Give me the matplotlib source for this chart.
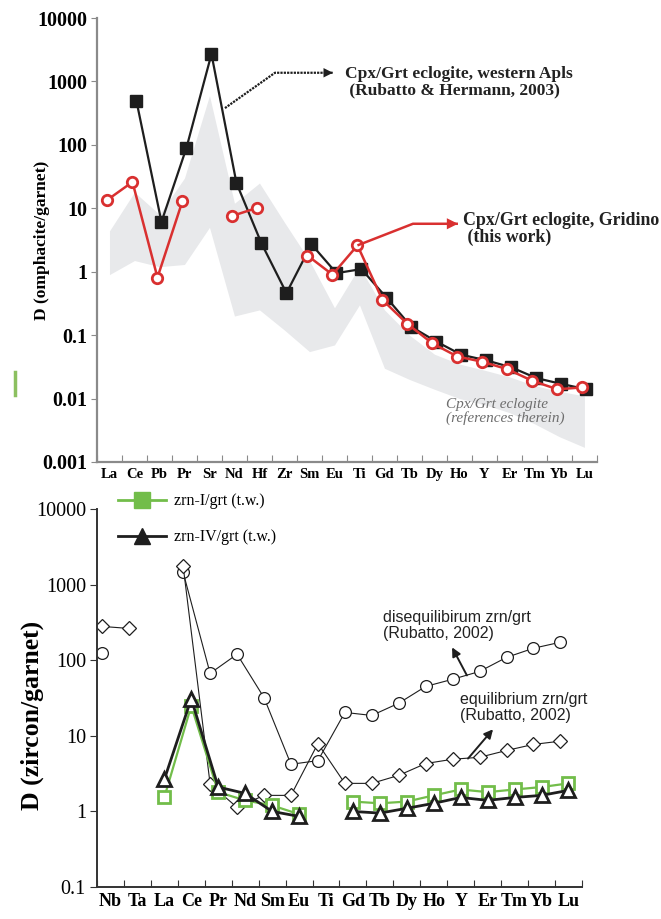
import matplotlib
matplotlib.use("Agg")
import matplotlib.pyplot as plt
import numpy as np
from matplotlib.lines import Line2D

plt.rcParams["font.family"] = ["Liberation Serif", "DejaVu Serif"]

# ── Panel (a): clinopyroxene / garnet partition coefficients ──────────────────
ELEMENTS_A = ["La", "Ce", "Pb", "Pr", "Sr", "Nd", "Hf", "Zr", "Sm", "Eu",
              "Ti", "Gd", "Tb", "Dy", "Ho", "Y", "Er", "Tm", "Yb", "Lu"]

# Rubatto & Hermann (2003), western Alps (no La)
D_ALPS = [np.nan, 490, 6.1, 90, 2700, 25, 2.8, 0.46, 2.7, 0.95,
          1.1, 0.39, 0.135, 0.079, 0.049, 0.040, 0.031, 0.021, 0.017, 0.014]

# this work, Gridino (no Sr, Zr)
D_GRIDINO = [13.6, 26, 0.81, 13, np.nan, 7.6, 10.2, np.nan, 1.8, 0.90,
             2.6, 0.36, 0.15, 0.074, 0.046, 0.038, 0.029, 0.019, 0.014, 0.015]

# literature envelope (references therein)
BAND_HI = [4.4, 18, 8, 30, 600, 12, 25, 6, 1.5, 0.27,
           1.2, 0.25, 0.10, 0.05, 0.035, 0.028, 0.022, 0.016, 0.013, 0.011]
BAND_LO = [0.9, 1.5, 1.2, 1.3, 5, 0.2, 0.25, 0.12, 0.055, 0.07,
           0.3, 0.03, 0.02, 0.014, 0.010, 0.008, 0.006, 0.004, 0.0025, 0.0017]

# ── Panel (b): zircon / garnet partition coefficients ─────────────────────────
ELEMENTS_B = ["Nb", "Ta", "La", "Ce", "Pr", "Nd", "Sm", "Eu", "Ti",
              "Gd", "Tb", "Dy", "Ho", "Y", "Er", "Tm", "Yb", "Lu"]

D_DISEQ = [123, np.nan, np.nan, 1450, 67, 120, 32, 4.2, 4.7,
           20.4, 18.6, 27, 45, 56, 71, 109, 144, 173]
D_EQ = [280, 263, np.nan, 1740, 2.3, 1.13, 1.63, 1.63, 7.9,
        2.35, 2.35, 3.0, 4.3, 4.9, 5.2, 6.4, 7.7, 8.5]
D_ZRN_I = [np.nan, np.nan, 1.53, 25, 1.8, 1.4, 1.2, 0.92, np.nan,
           1.35, 1.28, 1.35, 1.63, 1.95, 1.8, 1.95, 2.1, 2.35]
D_ZRN_IV = [np.nan, np.nan, 2.65, 31, 2.1, 1.73, 1.0, 0.86, np.nan,
            1.0, 0.95, 1.1, 1.28, 1.53, 1.4, 1.53, 1.63, 1.9]

RED = "#d93030"
GREEN = "#72bd4a"
DARK = "#1e1e1e"
BAND = "#e8e9eb"


def cat_axis(ax, labels, fs):
    n = len(labels)
    ax.set_xlim(0, n)
    ax.set_xticks(np.arange(n + 1))
    ax.set_xticklabels([])
    ax.tick_params(axis="x", which="major", direction="in", length=5)
    ax.set_xticks(np.arange(n) + 0.5, minor=True)
    ax.set_xticklabels(labels, minor=True, fontsize=fs, fontweight="bold")
    ax.tick_params(axis="x", which="minor", length=0, pad=4)
    ax.spines["top"].set_visible(False)
    ax.spines["right"].set_visible(False)


def elbow_arrow(ax, pts, color, lw, ls="-", head=14):
    """polyline through pts with an arrow head on the last segment"""
    xs, ys = zip(*pts)
    ax.plot(xs, ys, color=color, lw=lw, ls=ls,
            solid_capstyle="butt", zorder=5, clip_on=False)
    ax.annotate("", xy=pts[-1], xytext=pts[-2],
                arrowprops=dict(arrowstyle="-|>", color=color, lw=0,
                                mutation_scale=head, shrinkA=0, shrinkB=0),
                zorder=6)


fig = plt.figure(figsize=(6.61, 9.19), dpi=100)

# ── (a) ───────────────────────────────────────────────────────────────────────
ax = fig.add_axes([0.1467, 0.4973, 0.7564, 0.4831])
xa = np.arange(len(ELEMENTS_A)) + 0.5
ax.fill_between(xa, BAND_LO, BAND_HI, color=BAND, lw=0, zorder=1)
ax.plot(xa + 0.08, D_ALPS, color=DARK, lw=1.6, marker="s", ms=8.5,
        mfc=DARK, mec=DARK, zorder=3)
ax.plot(xa - 0.08, D_GRIDINO, color=RED, lw=1.8, marker="o", ms=7.5,
        mfc="white", mec=RED, mew=2.0, zorder=4)
ax.set_yscale("log")
ax.set_ylim(0.001, 10000)
ax.set_yticks([0.001, 0.01, 0.1, 1, 10, 100, 1000, 10000])
ax.set_yticklabels(["0.001", "0.01", "0.1", "1", "10", "100", "1000", "10000"],
                   fontsize=14.5, fontweight="bold")
ax.yaxis.set_minor_locator(matplotlib.ticker.NullLocator())
ax.tick_params(axis="y", direction="out", length=4, color="#8a8a8a", pad=3)
cat_axis(ax, ELEMENTS_A, 10.5)
ax.tick_params(axis="x", which="major", color="#8a8a8a")
for s in ("left", "bottom"):
    ax.spines[s].set_color("#8a8a8a")
    ax.spines[s].set_linewidth(1.6)
ax.set_ylabel("D (omphacite/garnet)", fontsize=12.5, fontweight="bold")
ax.yaxis.set_label_coords(-0.094, 0.5)

elbow_arrow(ax, [(5.12, 380), (7.12, 1370), (9.44, 1370)], DARK, 1.6,
            ls=(0, (1, 0.5)), head=17)
ax.text(9.92, 980, "Cpx/Grt eclogite, western Apls\n (Rubatto & Hermann, 2003)",
        fontsize=12.5, fontweight="bold", color="#222222", va="center",
        linespacing=1.0)
elbow_arrow(ax, [(10.42, 2.6), (12.64, 5.7), (14.44, 5.7)], RED, 1.8, head=20)
ax.text(14.65, 4.75, "Cpx/Grt eclogite, Gridino\n (this work)", fontsize=12.9,
        fontweight="bold", color="#222222", va="center", linespacing=1.0,
        clip_on=False)
ax.text(13.95, 0.0063, "Cpx/Grt eclogite\n(references therein)", fontsize=11,
        style="italic", color="#6e6e6e", va="center", linespacing=1.05)

# ── (b) ───────────────────────────────────────────────────────────────────────
bx = fig.add_axes([0.1467, 0.0348, 0.7337, 0.4113])
xb = np.arange(len(ELEMENTS_B))
ref_x = xb + 0.2
tw_x = xb + 0.5
bx.plot(ref_x, D_DISEQ, color=DARK, lw=0.8, marker="o", ms=8.5,
        mfc="white", mec=DARK, mew=0.9, zorder=2)
bx.plot(ref_x, D_EQ, color=DARK, lw=0.8, marker="D", ms=7.5,
        mfc="white", mec=DARK, mew=0.9, zorder=2)
bx.plot(tw_x, D_ZRN_I, color=GREEN, lw=1.6, marker="s", ms=9,
        mfc="white", mec=GREEN, mew=2.0, zorder=3)
bx.plot(tw_x, D_ZRN_IV, color=DARK, lw=2.0, marker="^", ms=10,
        mfc="white", mec=DARK, mew=2.0, zorder=4)
bx.set_yscale("log")
bx.set_ylim(0.1, 10000)
bx.set_yticks([0.1, 1, 10, 100, 1000, 10000])
bx.set_yticklabels(["0.1", "1", "10", "100", "1000", "10000"], fontsize=14.5)
bx.yaxis.set_minor_locator(matplotlib.ticker.NullLocator())
bx.tick_params(axis="y", direction="out", length=5, color="#333333", pad=3)
cat_axis(bx, ELEMENTS_B, 13)
bx.tick_params(axis="x", which="major", color="#333333")
for s in ("left", "bottom"):
    bx.spines[s].set_color("#333333")
    bx.spines[s].set_linewidth(1.4)
bx.set_ylabel("D (zircon/garnet)", fontsize=18.5, fontweight="bold")
bx.yaxis.set_label_coords(-0.11, 0.455)

handles = [
    Line2D([], [], color=GREEN, lw=2.0, marker="s", ms=11, mfc=GREEN, mec=GREEN),
    Line2D([], [], color=DARK, lw=2.0, marker="^", ms=12, mfc=DARK, mec=DARK),
]
fig.legend(handles, ["zrn-I/grt (t.w.)", "zrn-IV/grt (t.w.)"],
           loc="upper left", bbox_to_anchor=(0.157, 0.479), frameon=False,
           fontsize=11.5, handlelength=3.0, handletextpad=0.5, labelspacing=1.25)

sans = ["Liberation Sans", "DejaVu Sans"]
bx.text(10.6, 285, "disequilibirum zrn/grt\n(Rubatto, 2002)", fontsize=11.5,
        family=sans, color="#222222", va="center", linespacing=1.1)
bx.annotate("", xy=(13.18, 148), xytext=(13.73, 63),
            arrowprops=dict(arrowstyle="-|>", color=DARK, lw=1.4,
                            mutation_scale=13, shrinkA=0, shrinkB=0))
bx.text(13.47, 23.8, "equilibrium zrn/grt\n(Rubatto, 2002)", fontsize=11.5,
        family=sans, color="#222222", va="center", linespacing=1.1)
bx.annotate("", xy=(14.7, 12.2), xytext=(13.77, 5.0),
            arrowprops=dict(arrowstyle="-|>", color=DARK, lw=1.4,
                            mutation_scale=13, shrinkA=0, shrinkB=0))

# stray green tick at the left margin
fig.add_artist(Line2D([0.023, 0.023], [1 - 372 / 919, 1 - 395 / 919],
                      color="#8cc060", lw=2.5, transform=fig.transFigure))

fig.savefig("out.png", dpi=100)
